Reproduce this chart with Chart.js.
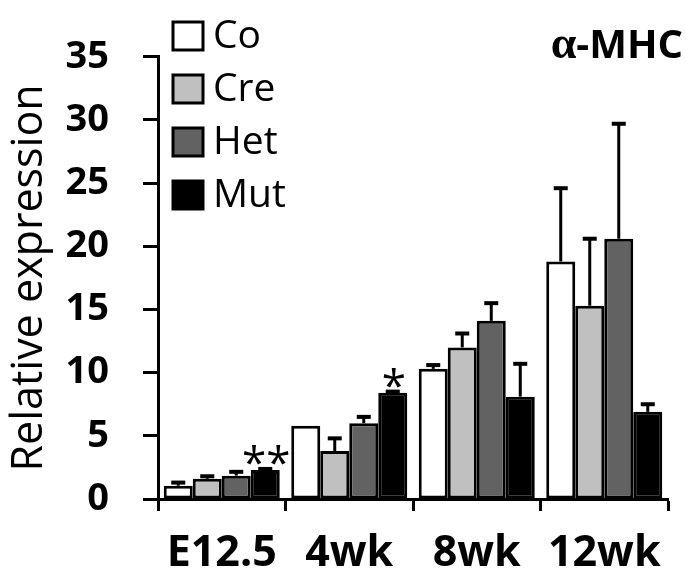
<!DOCTYPE html>
<html>
<head>
<meta charset="utf-8">
<script src="https://cdn.jsdelivr.net/npm/chart.js@4"></script>
<style>
  html, body { margin: 0; padding: 0; background: #fff; }
  #wrap { width: 686px; height: 588px; }
</style>
</head>
<body>
<div id="wrap"><canvas id="chart"></canvas></div>
<script>
// data
const categories = ['E12.5', '4wk', '8wk', '12wk'];
const seriesNames = ['Co', 'Cre', 'Het', 'Mut'];
const coValues  = [1.05, 5.8, 10.3, 18.8];
const creValues = [1.6, 3.8, 12.0, 15.3];
const hetValues = [1.85, 6.0, 14.1, 20.6];
const mutValues = [2.3, 8.4, 8.1, 6.9];
// upper error (SD) per bar
const coErr  = [0.25, 0, 0.3, 5.8];
const creErr = [0.2, 1.0, 1.1, 5.3];
const hetErr = [0.3, 0.5, 1.4, 9.1];
const mutErr = [0.08, 0.1, 2.6, 0.6];
const yTicks = [0, 5, 10, 15, 20, 25, 30, 35];
// significance marks: [category index, series index, text]
const marks = [[0, 3, '**'], [1, 3, '*']];
const chartTitle = 'MHC';

const fillColors = ['#ffffff', '#c0c0c0', '#626262', '#000000'];
const values = [coValues, creValues, hetValues, mutValues];
const errors = [coErr, creErr, hetErr, mutErr];
const FONT = "'Open Sans', sans-serif";

Chart.defaults.color = '#000';
Chart.defaults.font.family = FONT;

const errorBars = {
  id: 'errorBars',
  afterDatasetsDraw(chart) {
    const ctx = chart.ctx;
    const y = chart.scales.y;
    ctx.save();
    ctx.strokeStyle = '#000';
    ctx.fillStyle = '#000';
    chart.data.datasets.forEach((ds, i) => {
      const meta = chart.getDatasetMeta(i);
      meta.data.forEach((bar, j) => {
        const err = errors[i][j];
        if (!err) return;
        const top = y.getPixelForValue(ds.data[j] + err);
        ctx.lineWidth = 3;
        ctx.beginPath();
        ctx.moveTo(bar.x, bar.y);
        ctx.lineTo(bar.x, top);
        ctx.stroke();
        ctx.fillRect(bar.x - 7, top - 2, 14, 4);
      });
    });
    // asterisks
    ctx.font = '44px ' + FONT;
    ctx.textAlign = 'center';
    ctx.textBaseline = 'alphabetic';
    marks.forEach(m => {
      const bar = chart.getDatasetMeta(m[1]).data[m[0]];
      const v = values[m[1]][m[0]] + errors[m[1]][m[0]];
      ctx.fillText(m[2], bar.x + 1, y.getPixelForValue(v) + 9);
    });
    ctx.restore();
  }
};

const boxLegend = {
  id: 'boxLegend',
  afterDraw(chart) {
    const ctx = chart.ctx;
    ctx.save();
    chart.data.datasets.forEach((ds, i) => {
      const top = 22 + i * 53;
      ctx.fillStyle = ds.backgroundColor;
      ctx.fillRect(173, top, 30, 28);
      ctx.lineWidth = 3;
      ctx.strokeStyle = '#000';
      ctx.strokeRect(173, top, 30, 28);
      ctx.fillStyle = '#000';
      ctx.font = '39px ' + FONT;
      ctx.textAlign = 'left';
      ctx.textBaseline = 'middle';
      ctx.fillText(ds.label, 213, top + 15);
    });
    // title, alpha drawn in a serif face like the original
    ctx.font = 'bold 40px ' + FONT;
    const rest = '-' + chartTitle;
    const wRest = ctx.measureText(rest).width;
    ctx.textAlign = 'right';
    ctx.textBaseline = 'alphabetic';
    ctx.fillText(rest, 683, 58);
    ctx.font = 'bold 46px "Liberation Serif", serif';
    ctx.fillText('\u03b1', 683 - wRest, 58);
    ctx.restore();
  }
};

const datasets = seriesNames.map((name, i) => ({
  label: name,
  data: values[i],
  backgroundColor: fillColors[i],
  borderColor: '#000',
  borderWidth: 3,
  borderSkipped: false,
  categoryPercentage: 0.91,
  barPercentage: 1.0
}));

new Chart(document.getElementById('chart').getContext('2d'), {
  type: 'bar',
  data: { labels: categories, datasets: datasets },
  options: {
    responsive: true,
    maintainAspectRatio: false,
    animation: false,
    layout: { padding: { top: 34, right: 18, left: 0, bottom: 0 } },
    plugins: {
      legend: { display: false },
      tooltip: { enabled: false }
    },
    scales: {
      x: {
        afterFit(scale) { scale.height = 89; },
        grid: {
          offset: true,
          drawOnChartArea: false,
          color: '#000',
          tickLength: 12,
          tickWidth: 3
        },
        border: { color: '#000', width: 3 },
        ticks: {
          font: { size: 43, weight: 'bold' },
          padding: 17,
          maxRotation: 0
        }
      },
      y: {
        min: 0,
        max: 35,
        afterFit(scale) { scale.width = 158; },
        afterBuildTicks(scale) { scale.ticks = yTicks.map(v => ({ value: v })); },
        grid: {
          drawOnChartArea: false,
          color: '#000',
          tickLength: 15,
          tickWidth: 3
        },
        border: { color: '#000', width: 3 },
        ticks: {
          font: { size: 38, weight: 'bold' },
          padding: 34
        },
        title: {
          display: true,
          text: 'Relative expression',
          font: { size: 43, weight: 'normal' },
          padding: { top: 4, bottom: 0 }
        }
      }
    }
  },
  plugins: [errorBars, boxLegend]
});
</script>
</body>
</html>
